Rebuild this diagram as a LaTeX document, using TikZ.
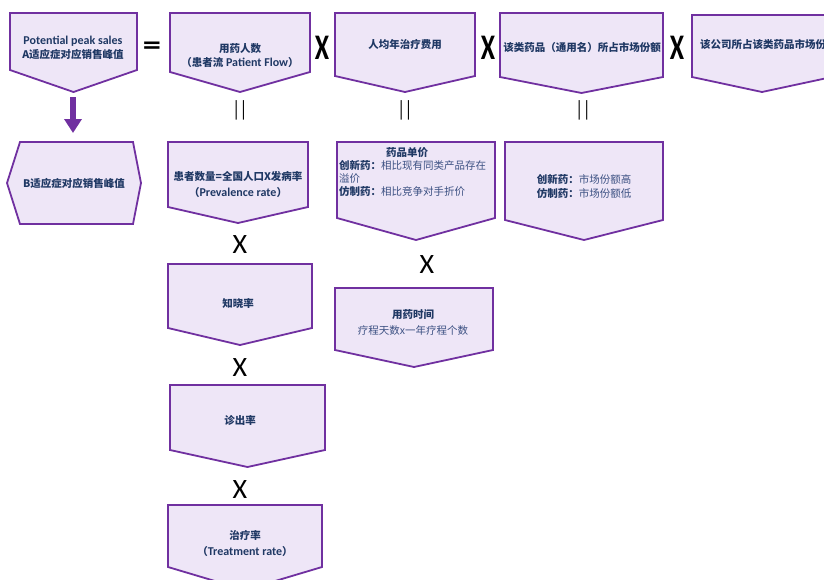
\documentclass[tikz,border=0pt]{standalone}
\usepackage{fontspec}
\usepackage{graphicx}
\setmainfont{Carlito}
\newfontfamily\cjk{Noto Sans CJK SC}
\newcommand\zh{\cjk\fontsize{10.5}{14}\selectfont}
\usetikzlibrary{arrows.meta}

\definecolor{boxline}{HTML}{7030A0}
\definecolor{boxfill}{HTML}{EEE6F7}
\definecolor{ink}{HTML}{1F3864}
\definecolor{inksoft}{HTML}{3B5082}

% pentagon pointing down: name, left x, right x, top y, side bottom y, tip y
\newcommand\downbox[6]{%
  \draw[pentbox] (#2,#4) -- (#3,#4) -- (#3,#5) -- ({(#2+#3)/2},#6) -- (#2,#5) -- cycle;
  \coordinate (#1-tip) at ({(#2+#3)/2},#6);
}

\begin{document}
\begin{tikzpicture}[x=1pt,y=-1pt,
  pentbox/.style={draw=boxline, fill=boxfill, line width=1.8pt, line join=miter},
  lbl/.style={align=center, text=ink, inner sep=0pt, font=\bfseries\fontsize{12}{14}\selectfont},
  lbll/.style={align=left, text=ink, inner sep=0pt, anchor=west, font=\bfseries\fontsize{12}{13}\selectfont},
  bigop/.style={text=black, inner sep=0pt, font=\bfseries\fontsize{36}{36}\selectfont},
  thinop/.style={text=black, inner sep=0pt, font=\fontsize{28}{28}\selectfont},
  eqop/.style={text=black, inner sep=0pt, font=\fontsize{20}{20}\selectfont}]
\useasboundingbox (0,0) rectangle (824,579);
\clip (0,0) rectangle (824,579);

% top row
\downbox{b1}{10}{137}{13}{70}{92}
\downbox{b2}{170}{310}{13}{72}{92}
\downbox{b3}{335}{475}{13}{76}{92}
\downbox{b4}{500}{663}{13}{77}{93}
\downbox{b5}{692}{832}{15}{77}{92}

\node[lbl] (t1) at (73,48) {Potential peak sales\\{\zh\bfseries A适应症对应销售峰值}};
\node[lbl] (t2) at (240,56) {{\zh\bfseries 用药人数}\\{\zh\bfseries （患者流} Patient Flow{\zh\bfseries ）}};
\node[lbl] (t3) at (405,45) {\zh\bfseries 人均年治疗费用};
\node[lbl] (t4) at (582,47) {\zh\bfseries 该类药品（通用名）所占市场份额};
\node[lbl, anchor=west] (t5) at (700,44) {\zh\bfseries 该公司所占该类药品市场份额};

\node[eqop] (eq) at (152,48) {\scalebox{1.3}[1]{\bfseries\fontsize{28}{28}\selectfont =}};
\node[bigop] (x1) at (322,48) {\scalebox{0.72}[1]{X}};
\node[bigop] (x2) at (488,48) {\scalebox{0.72}[1]{X}};
\node[bigop] (x3) at (677,48) {\scalebox{0.72}[1]{X}};

\node[eqop] (p1) at (240,110) {\scalebox{0.8}[1.1]{||}};
\node[eqop] (p2) at (405,110) {\scalebox{0.8}[1.1]{||}};
\node[eqop] (p3) at (583,110) {\scalebox{0.8}[1.1]{||}};

% B indication
\draw[pentbox] (7,183) -- (20,142) -- (133,142) -- (141,183) -- (133,224) -- (20,224) -- cycle;
\node[lbl] (tB) at (74,183) {\zh\bfseries B适应症对应销售峰值};
\coordinate (b1-out) at (73,97);
\coordinate (bB-in) at (73,133);
\draw[boxline, line width=6pt, -{Triangle[width=17pt,length=14pt]}] (b1-out) -- (bB-in);

% patient flow column
\downbox{c1}{168}{308}{142}{207}{223}
\node[lbl, font=\bfseries\fontsize{12}{16}\selectfont] (tc1) at (238,184) {{\zh\bfseries 患者数量=全国人口X发病率}\\{\zh\bfseries （}Prevalence rate{\zh\bfseries ）}};
\node[thinop] (xc1) at (240,245) {X};
\downbox{c2}{168}{312}{264}{328}{345}
\node[lbl] (tc2) at (238,303) {\zh\bfseries 知晓率};
\node[thinop] (xc2) at (240,368) {X};
\downbox{c3}{170}{325}{385}{450}{467}
\node[lbl] (tc3) at (240,420) {\zh\bfseries 诊出率};
\node[thinop] (xc3) at (240,490) {X};
\downbox{c4}{168}{322}{505}{567}{590}
\node[lbl, font=\bfseries\fontsize{12}{16}\selectfont] (tc4) at (245,544) {{\zh\bfseries 治疗率}\\{\zh\bfseries （}Treatment rate{\zh\bfseries ）}};

% cost column
\downbox{d1}{337}{495}{142}{218}{240}
\node[lbl] (td1h) at (407,153) {\zh\bfseries 药品单价};
\node[lbll, font=\bfseries\fontsize{12}{13}\selectfont] (td1) at (339,178.5) {{\zh\bfseries 创新药：}{\zh\mdseries\color{inksoft}相比现有同类产品存在}\\{\zh\mdseries\color{inksoft}溢价}\\{\zh\bfseries 仿制药：}{\zh\mdseries\color{inksoft}相比竞争对手折价}};
\node[thinop] (xd1) at (427,265) {X};
\downbox{d2}{335}{493}{288}{350}{367}
\node[lbl, font=\bfseries\fontsize{12}{16}\selectfont] (td2) at (413,322) {{\zh\bfseries 用药时间}\\{\zh\mdseries\color{inksoft}疗程天数x一年疗程个数}};

% share column
\downbox{e1}{505}{663}{142}{220}{240}
\node[lbl] (te1) at (584,186) {{\zh\bfseries 创新药：}{\zh\mdseries\color{inksoft}市场份额高}\\{\zh\bfseries 仿制药：}{\zh\mdseries\color{inksoft}市场份额低}};
\end{tikzpicture}
\end{document}
